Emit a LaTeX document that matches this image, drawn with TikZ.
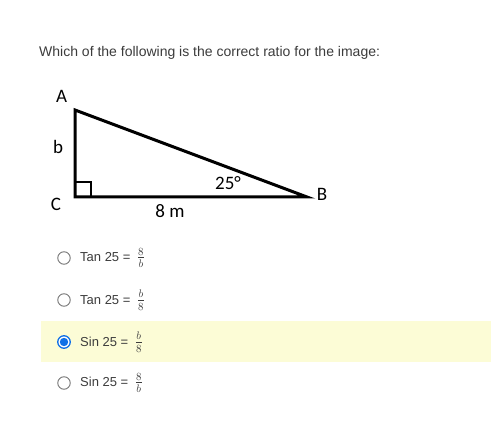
\documentclass[tikz,border=0pt]{standalone}
\usepackage{fontspec}
\setmainfont{Liberation Sans}
\newfontfamily\calib{Carlito}
\definecolor{txt}{RGB}{60,60,60}
\definecolor{hl}{RGB}{252,252,214}
\definecolor{radiog}{RGB}{118,118,118}
\definecolor{radiob}{RGB}{16,112,230}
\newcommand{\myfrac}[2]{\hspace{3pt}{\fontsize{16}{18}\selectfont$\frac{#1}{#2}$}}
\tikzset{
  px/.style={x=1pt,y=-1pt},
  lbl/.style={font=\calib\fontsize{19}{21}\selectfont, text=black, inner sep=0pt},
  opt/.style={font=\fontsize{13}{15}\selectfont, text=txt, inner sep=0pt, anchor=west},
  radio/.style={circle, draw=radiog, line width=0.9pt, minimum size=12.5pt, inner sep=0pt, fill=white},
  tri/.style={line width=3pt, line join=miter},
}
\begin{document}
\begin{tikzpicture}[px]
\useasboundingbox (0,0) rectangle (491,427);
\fill[white] (0,0) rectangle (491,427);
\node[opt, font=\fontsize{14}{16}\selectfont] (q) at (39,53) {Which of the following is the correct ratio for the image:};
% triangle
\coordinate (A) at (75,110);
\coordinate (C) at (75,197);
\coordinate (B) at (307,197);
\draw[tri] (A) -- (C) -- (B) -- cycle;
\draw[line width=2.5pt] (75,182) -- (91,182) -- (91,197);
\node[lbl] (lA) at (61.5,96) {A};
\node[lbl] (lb) at (58,147) {b};
\node[lbl] (lC) at (56,204) {C};
\node[lbl] (lB) at (322,194) {B};
\node[lbl] (l8) at (170,211) {8 m};
\node[lbl] (l25) at (228,183) {25°};
% highlight
\fill[hl] (41,321) rectangle (491,362);
% options
\node[radio] (r1) at (64,258) {};
\node[opt] (t1) at (80,258) {Tan 25 = \myfrac{8}{b}};
\node[radio] (r2) at (64,300) {};
\node[opt] (t2) at (80,300) {Tan 25 = \myfrac{b}{8}};
\node[radio, draw=radiob, line width=1.3pt] (r3) at (64,342) {};
\fill[radiob] (r3.center) circle (4.2pt);
\node[opt] (t3) at (80,342) {Sin 25 = \myfrac{b}{8}};
\node[radio] (r4) at (64,383) {};
\node[opt] (t4) at (80,383) {Sin 25 = \myfrac{8}{b}};
\end{tikzpicture}
\end{document}
